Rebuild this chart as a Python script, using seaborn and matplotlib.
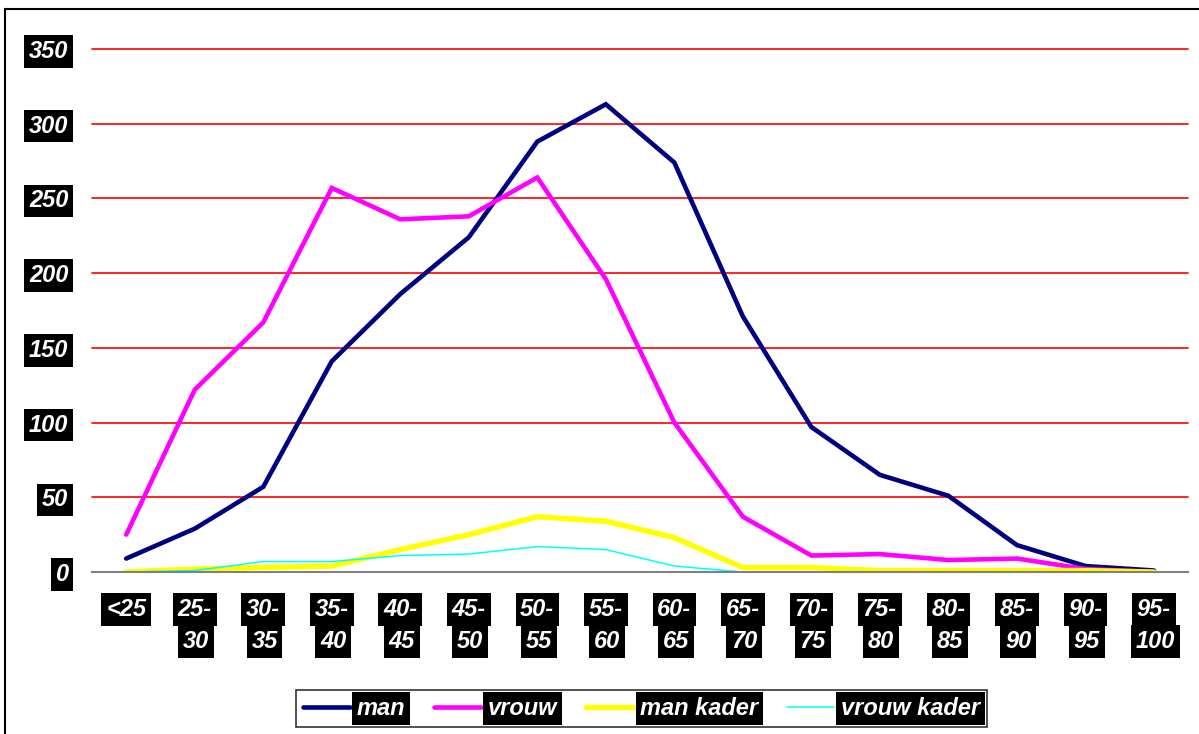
import numpy as np
import pandas as pd
import matplotlib as mpl
import matplotlib.pyplot as plt
import seaborn as sns
from matplotlib.patches import Rectangle

# age classes (two-line labels) and counts
labels_top = ["<25", "25-", "30-", "35-", "40-", "45-", "50-", "55-",
              "60-", "65-", "70-", "75-", "80-", "85-", "90-", "95-"]
labels_bottom = ["", "30", "35", "40", "45", "50", "55", "60",
                 "65", "70", "75", "80", "85", "90", "95", "100"]
categories = [a + b for a, b in zip(labels_top, labels_bottom)]

man = [9, 29, 57, 141, 186, 224, 288, 313, 274, 171, 97, 65, 51, 18, 4, 1]
vrouw = [25, 122, 167, 257, 236, 238, 264, 196, 100, 37, 11, 12, 8, 9, 2, 0]
man_kader = [0, 2, 3, 4, 15, 25, 37, 34, 23, 3, 3, 1, 1, 1, 1, 0]
vrouw_kader = [0, 1, 7, 7, 11, 12, 17, 15, 4, 0, 0, 0, 0, 0, 0, 0]

series = {"man": man, "vrouw": vrouw, "man kader": man_kader, "vrouw kader": vrouw_kader}
colors = {"man": "#000080", "vrouw": "#FF00FF", "man kader": "#FFFF00", "vrouw kader": "#00FFFF"}
widths = {"man": 3.3, "vrouw": 3.3, "man kader": 3.9, "vrouw kader": 1.1}

df = pd.concat([pd.DataFrame({"leeftijd": categories, "aantal": v, "groep": k})
                for k, v in series.items()], ignore_index=True)

sns.set_style("white")
mpl.rcParams['font.family'] = ['Liberation Sans', 'DejaVu Sans']

fig = plt.figure(figsize=(11.99, 7.34), dpi=100)
ax = fig.add_axes([0.0767, 0.2207, 0.9143, 0.7126])

sns.lineplot(data=df, x="leeftijd", y="aantal", hue="groep", palette=colors,
             sort=False, ax=ax, legend=False)
for line, k in zip(ax.get_lines(), series.keys()):
    line.set_linewidth(widths[k])
    line.set_solid_joinstyle("miter")

ax.set_xlim(-0.5, len(categories) - 0.5)
ax.set_ylim(0, 350)
ax.set_xlabel("")
ax.set_ylabel("")

# red horizontal gridlines
for v in range(50, 351, 50):
    ax.axhline(v, color="#FF0000", lw=1.2, zorder=0, clip_on=False)

for s in ["top", "right", "left"]:
    ax.spines[s].set_visible(False)
ax.spines["bottom"].set_color("#808080")
ax.spines["bottom"].set_linewidth(1.5)

box = dict(facecolor="black", edgecolor="none", boxstyle="square,pad=0.2")
txt = dict(color="white", fontsize=17, fontweight="bold", fontstyle="italic")

ax.set_yticks(range(0, 351, 50))
ax.set_yticklabels([str(v) for v in range(0, 351, 50)], **txt)
for t in ax.get_yticklabels():
    t.set_bbox(box)
ax.tick_params(axis="y", length=0, pad=17)

ax.set_xticks(range(len(categories)))
ax.set_xticklabels([])
ax.tick_params(axis="x", which="major", length=0)
ax.set_xticks(np.arange(-0.5, len(categories)), minor=True)
ax.tick_params(axis="x", which="minor", length=7, width=1.3, color="#808080", direction="out")

for i, (a, b) in enumerate(zip(labels_top, labels_bottom)):
    ax.annotate(a, xy=(i, 0), xycoords=("data", "axes fraction"), xytext=(0, -27),
                textcoords="offset points", ha="center", va="center", bbox=box, **txt)
    if b:
        ax.annotate(b, xy=(i, 0), xycoords=("data", "axes fraction"), xytext=(1, -50),
                    textcoords="offset points", ha="center", va="center", bbox=box, **txt)

handles = [mpl.lines.Line2D([], [], color=colors[k], lw=widths[k], solid_capstyle="round")
           for k in series]
leg = fig.legend(handles, list(series.keys()), loc="center", bbox_to_anchor=(0.535, 0.035),
                 ncol=4, frameon=True, fancybox=False, edgecolor="black",
                 prop={"size": 17, "weight": "bold", "style": "italic"},
                 handlelength=2.0, handletextpad=0.3, columnspacing=1.2,
                 borderpad=0.3)
leg.get_frame().set_linewidth(1.2)
for t in leg.get_texts():
    t.set_color("white")
    t.set_bbox(box)

# outer frame of the chart area
fig.patches.append(Rectangle((0.0045, -0.05), 1.2, 0.988 + 0.05, transform=fig.transFigure,
                             fill=False, edgecolor="black", lw=1.5))

fig.savefig("out.png", dpi=100)
